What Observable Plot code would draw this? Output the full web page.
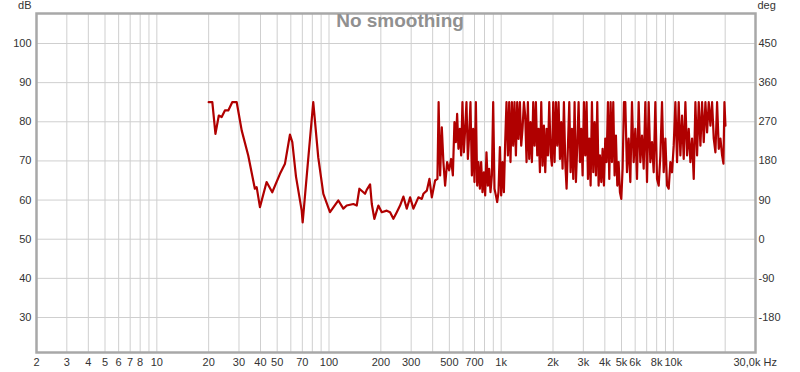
<!DOCTYPE html>
<html><head><meta charset="utf-8">
<script src="https://cdn.jsdelivr.net/npm/d3@7"></script>
<script src="https://cdn.jsdelivr.net/npm/@observablehq/plot@0.6"></script>
<style>body{margin:0;background:#fff} svg{display:block}</style>
</head><body><div id="chart"></div>
<script>
// Frequency response (Hz, dB)
const lowBand = [[20,85],[21,85],[21.9,76.9],[22.9,81.6],[23.8,81.2],[24.85,82.9],[26,82.9],[27.4,85],[29.1,85],[31.1,77.8],
  [33.95,71.4],[37.1,62.9],[38,63.3],[39.7,58.2],[43.4,64.6],[46.8,62.0],[51.9,66.7],[55.5,69.3],[59.3,76.7],[61.2,74.8],
  [64.3,66],[69.4,57.3],[70.3,54.3],[75.2,69],[81,85],[86.6,70.9],[92.7,61.6],[101.3,56.9],[113.3,59.9],[121.1,57.8],
  [126.7,58.6],[138.5,59.0],[144.9,58.6],[150.1,62.9],[158.3,62.0],[161.9,61.6],[165.6,62.6],[173.2,64.0],[177.2,59.0],[183.4,55.2],
  [193.5,58.6],[202.5,56.9],[216.5,57.3],[226.3,56.9],[236.5,55.2],[247.5,56.9],[258.6,58.6],[270.4,60.9],[282.9,57.8],[295.8,60.7],
  [309.2,57.8],[330.5,60.7],[345.9,60.3],[353.4,61.6],[369.8,62.4],[383,65.4],[395.5,60.7],[413.3,65.0],[426.3,65.4],[433.1,85]];
const midBand = [[441.9,66.3],[452,78.6],[461.8,69.7],[472.4,63.7],[485.3,69.7],[498.5,67.6],[512,70.5],[523.9,66.3],[535.2,79.9],[545.3,74.8],
  [554.9,82.0],[564.6,73.1],[575.4,78.2],[585.5,71.4],[595.7,85],[607,72.2],[617.7,78.2],[628.6,85],[640.4,70.5],[651.7,76.5],
  [663.1,85],[675.8,66.3],[687.6,78.2],[699.7,64.6],[712.9,85],[725.4,63.7],[737.9,69.7],[752,62.9],[765.1,69.7],[778.6,62.0],
  [793.3,67.1],[807.3,61.2],[821.4,72.2],[837,63.7],[851.7,68.0],[866.7,62.0],[883.1,66.3],[898.6,85],[914.4,62.9],[931.5,61.2],
  [947.8,59.5],[964.5,62.0],[982.7,73.5],[1000,61.2],[1017.6,69.7],[1036.8,62.0],[1055,74.8],[1073.5,85],[1094,71.4],[1113.1,85],
  [1132.7,69.7],[1154,85],[1174.4,73.9],[1195,85],[1217.6,71.4],[1238.9,85],[1260.8,75.6],[1284.6,85],[1307.3,73.9],[1330.1,78.2],[1355.4,85]];
const upperBand = [[1379,81.6],[1404,69.7],[1429,85],[1455,70.5],[1481,79.9],[1508,69.7],[1535,85],[1563,73.9],[1591,85],[1620,71.4],
  [1649,78.2],[1679,67.1],[1709,85],[1740,68.8],[1771,79.0],[1803,67.1],[1835,78.2],[1868,71.4],[1902,85],[1936,72.2],
  [1971,68.8],[2006,85],[2042,69.7],[2079,85],[2117,73.9],[2155,85],[2194,70.5],[2233,79.9],[2273,68.0],[2314,85],
  [2356,69.7],[2398,62.9],[2442,73.9],[2486,85],[2530,67.1],[2576,78.2],[2622,65.4],[2669,85],[2717,64.6],[2766,73.9],
  [2816,85],[2867,69.7],[2918,78.2],[2971,66.3],[3024,85],[3079,71.4],[3134,85],[3191,65.4],[3248,75.7],[3307,63.7],
  [3366,85],[3427,67.1],[3488,79.9],[3551,66.3],[3615,85],[3680,63.7],[3746,71.4],[3814,64.6],[3882,73.1],[3952,63.7],
  [4023,75.7],[4096,69.7],[4169,85],[4244,65.4],[4321,85],[4398,69.7],[4478,85],[4558,66.3],[4640,76.5],[4724,63.7],
  [4809,69.7],[4895,62.0],[4984,60.3],[5073,68.0],[5165,85]];
const highBand = [[5260,85],[5379,67.1],[5500,75.7],[5624,64.6],[5751,85],[5881,69.7],[6014,78.2],[6149,65.4],[6288,85],[6430,69.7],
  [6575,76.5],[6724,68.0],[6875,85],[7031,64.6],[7189,85],[7351,69.7],[7517,74.8],[7687,67.1],[7860,85],[8038,65.4],
  [8219,63.7],[8405,71.4],[8594,85],[8788,67.1],[8987,75.7],[9189,63.7],[9397,62.9],[9609,69.7],[9826,67.1],[10048,73.9],
  [10274,85],[10506,69.7],[10743,85],[10986,71.4],[11234,81.6],[11487,70.5],[11747,85],[12012,71.4],[12283,78.2],[12560,69.7],
  [12844,75.7],[13133,65.4],[13430,85],[13733,71.4],[14043,85],[14359,73.9],[14684,85],[15015,74.8],[15354,85],[15700,77.3],
  [16054,85],[16417,79.0],[16787,85],[17166,75.7],[17553,72.2],[17949,85],[18355,73.1],[18769,75.7],[19192,71.4],[19540,69.3],
  [19800,85],[20070,79.0]];

const dbTicks = [30,40,50,60,70,80,90,100];
const degLabels = [-180,-90,0,90,180,270,360,450];
const xTickLabels = [2,3,4,5,6,7,8,10,20,30,40,50,70,100,200,300,500,700,1000,2000,3000,4000,5000,6000,8000,10000];
const xGrid = [3,4,5,6,7,8,9,10,20,30,40,50,60,70,80,90,100,200,300,400,500,600,700,800,900,
  1000,2000,3000,4000,5000,6000,7000,8000,9000,10000,20000];
const endLabel = "30,0k Hz";
const title = "No smoothing";

const data = [...lowBand, ...midBand, ...upperBand, ...highBand].map(([f, db]) => ({f, db}));
const fmt = d => d >= 1000 ? (d / 1000) + "k" : String(d);

const chart = Plot.plot({
  width: 800, height: 372,
  marginLeft: 36, marginRight: 45, marginTop: 13, marginBottom: 20,
  style: {fontFamily: "'Liberation Sans', Arial, sans-serif", fontSize: "11px", color: "#333", background: "#fff", overflow: "visible"},
  x: {type: "log", domain: [2, 30000], axis: null},
  y: {domain: [21.06, 107.66], axis: null},
  marks: [
    Plot.ruleX(xGrid, {stroke: "#cfcfcf", strokeWidth: 1}),
    Plot.ruleY(dbTicks, {stroke: "#cfcfcf", strokeWidth: 1}),
    Plot.line(data, {x: "f", y: "db", stroke: "#b00000", strokeWidth: 2.2, strokeLinejoin: "round"}),
    Plot.frame({stroke: "#a8a8a8", strokeWidth: 2.5}),
    Plot.text(xTickLabels, {x: d => d, frameAnchor: "bottom", lineAnchor: "top", dy: 6, text: fmt, fill: "#333"}),
    Plot.axisY({anchor: "left", ticks: dbTicks, tickSize: 0, tickPadding: 5, label: null}),
    Plot.axisY({anchor: "right", ticks: dbTicks, tickFormat: d => String(degLabels[dbTicks.indexOf(d)]), tickSize: 0, tickPadding: 3, label: null}),
    Plot.text([endLabel], {x: 30000, frameAnchor: "bottom", textAnchor: "start", lineAnchor: "top", dx: -22, dy: 6, fill: "#333"}),
    Plot.text(["dB"], {frameAnchor: "top-left", textAnchor: "end", lineAnchor: "middle", dx: -5, dy: -8, fill: "#333"}),
    Plot.text(["deg"], {frameAnchor: "top-right", textAnchor: "start", lineAnchor: "middle", dx: 2, dy: -8, fill: "#333"}),
    Plot.text([title], {frameAnchor: "top", lineAnchor: "top", dx: 4, dy: 0, fontSize: 19, fontWeight: "bold", fill: "#909090"})
  ]
});
document.getElementById("chart").append(chart);
</script>
</body></html>
